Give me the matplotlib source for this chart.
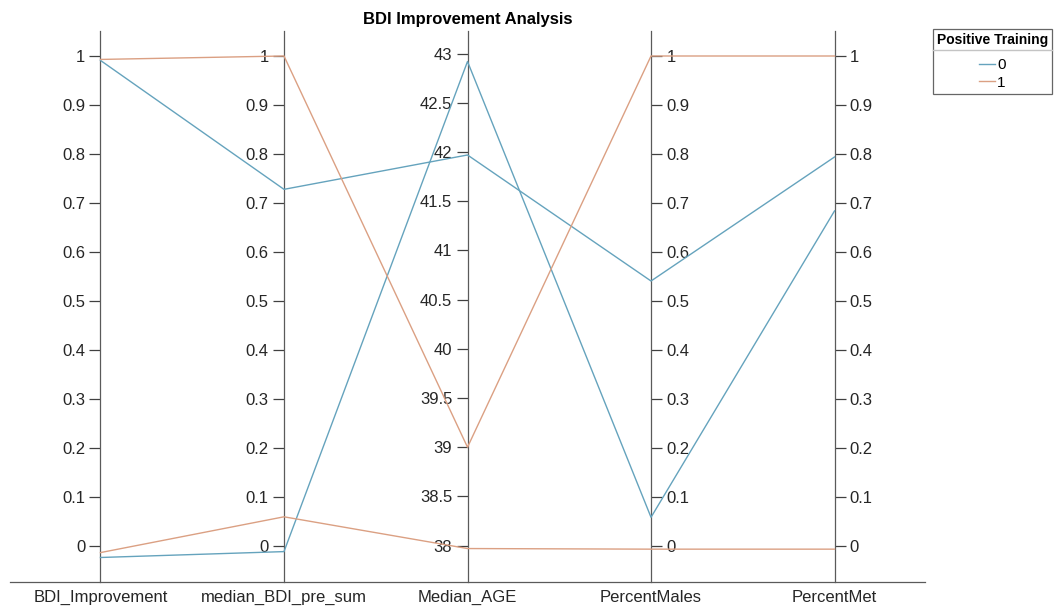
# %%
import matplotlib

matplotlib.use("Agg")
import matplotlib.pyplot as plt
from matplotlib.lines import Line2D

plt.rcParams["font.family"] = ["Liberation Sans", "DejaVu Sans"]

# %%
columns = ["BDI_Improvement", "median_BDI_pre_sum", "Median_AGE", "PercentMales", "PercentMet"]
groups = ["0", "0", "1", "1"]
rows = [
    [0.990, 0.727, 41.97, 0.540, 0.793],
    [-0.024, -0.012, 42.92, 0.058, 0.683],
    [0.992, 0.999, 39.00, 0.999, 0.999],
    [-0.014, 0.059, 37.97, -0.007, -0.007],
]
group_colors = {"0": "#65a3bd", "1": "#dba083"}

# display range of each coordinate axis
limits = [(-0.074, 1.050)] * 2 + [(37.63, 43.23)] + [(-0.074, 1.050)] * 2
ticks = [
    [round(0.1 * i, 1) for i in range(11)],
    [round(0.1 * i, 1) for i in range(11)],
    [38 + 0.5 * i for i in range(11)],
    [round(0.1 * i, 1) for i in range(11)],
    [round(0.1 * i, 1) for i in range(11)],
]


def fmt(v):
    return f"{v:g}"


def norm(v, col):
    lo, hi = limits[col]
    return (v - lo) / (hi - lo)


# %%
W, H = 1059, 610
fig = plt.figure(figsize=(W / 100, H / 100), dpi=100)
ax = fig.add_axes([10 / W, 28 / H, 915 / W, 551 / H])
n = len(columns)
ax.set_xlim(-0.493, n - 1 + 0.493)
ax.set_ylim(0, 1)
for s in ["top", "left", "right"]:
    ax.spines[s].set_visible(False)
ax.spines["bottom"].set_color("#5a5a5a")
ax.spines["bottom"].set_linewidth(0.9)
ax.set_yticks([])
ax.set_xticks(range(n))
ax.set_xticklabels(columns, fontsize=12, color="#262626")
ax.tick_params(axis="x", length=0, pad=6)
ax.set_title("BDI Improvement Analysis", fontsize=12, fontweight="bold", pad=5)

# coordinate lines
for i, row in enumerate(rows):
    ys = [norm(v, c) for c, v in enumerate(row)]
    ax.plot(range(n), ys, color=group_colors[groups[i]], lw=1.0, zorder=3)

# coordinate axes with their own scales
for c in range(n):
    t = ax.twinx()
    t.set_ylim(*limits[c])
    t.set_xlim(ax.get_xlim())
    for s in ["top", "bottom", "right", "left"]:
        t.spines[s].set_visible(False)
    side = "left" if c < 3 else "right"
    t.spines[side].set_visible(True)
    t.spines[side].set_position(("data", c))
    t.spines[side].set_color("#5a5a5a")
    t.spines[side].set_linewidth(0.9)
    t.yaxis.set_ticks_position(side)
    t.yaxis.set_label_position(side)
    t.set_yticks(ticks[c])
    t.set_yticklabels([fmt(v) for v in ticks[c]])
    t.tick_params(axis="y", length=8, width=0.9, color="#404040",
                  labelsize=12, labelcolor="#262626", pad=3)
    t.set_zorder(1)
ax.set_zorder(2)
ax.patch.set_visible(False)

# legend
handles = [Line2D([], [], color=group_colors[g], lw=1.0) for g in ["0", "1"]]
leg = fig.legend(
    handles, ["0", "1"], title="Positive Training",
    loc="upper left", bbox_to_anchor=(933 / W, 1 - 29 / H),
    frameon=True, fancybox=False, edgecolor="#404040",
    fontsize=11, handlelength=1.0, handletextpad=0.15,
    borderpad=0.25, labelspacing=0.25, borderaxespad=0,
)
leg.get_title().set_fontweight("bold")
leg.get_title().set_fontsize(10)
leg.get_frame().set_linewidth(0.9)
leg._legend_box.align = "center"
leg._legend_box.sep = 8

fig.canvas.draw()
fb = leg.get_frame().get_window_extent()
tb = leg.get_title().get_window_extent()
y_sep = (tb.y0 - 3) / H
fig.add_artist(Line2D([fb.x0 / W, fb.x1 / W], [y_sep, y_sep],
                      color="#c4c4c4", lw=1.0, transform=fig.transFigure, zorder=10))

fig.savefig("out.png", dpi=100)
